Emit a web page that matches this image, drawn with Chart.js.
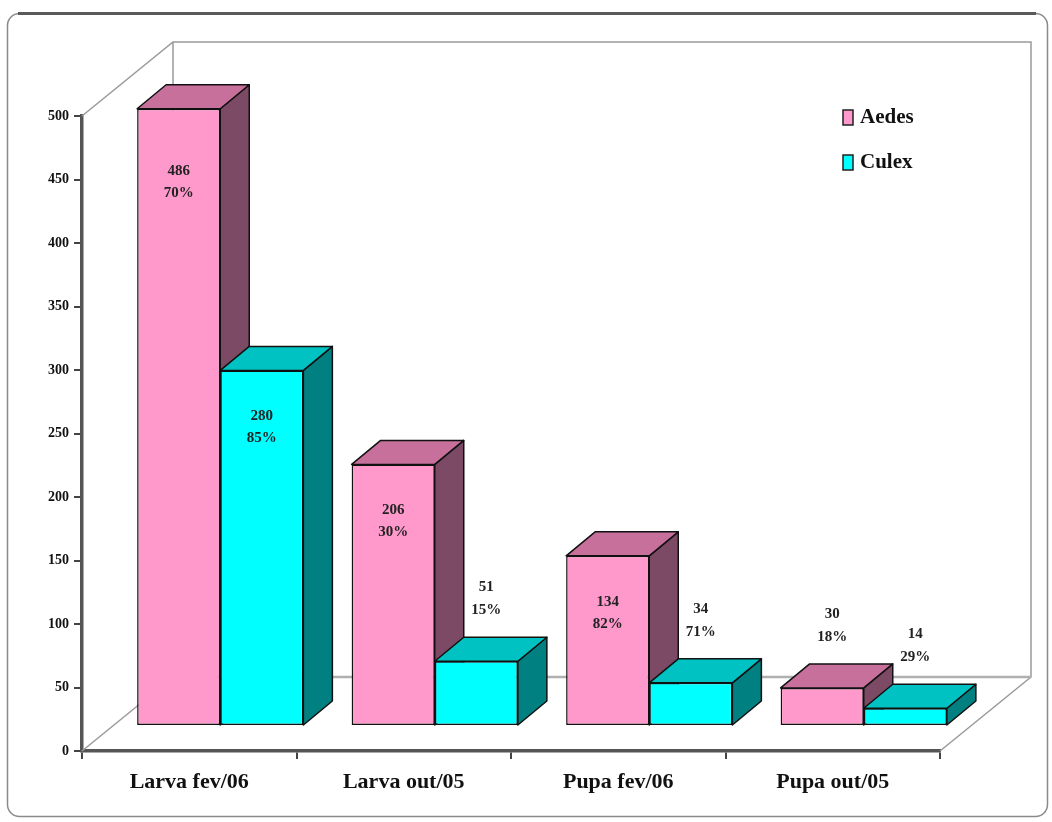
<!DOCTYPE html>
<html lang="pt">
<head>
<meta charset="utf-8">
<script src="https://cdn.jsdelivr.net/npm/chart.js@4.4.1/dist/chart.umd.min.js"></script>
<style>
  html, body { margin: 0; padding: 0; background: #fff; }
  canvas { display: block; }
</style>
</head>
<body>
<canvas id="grafico" width="1052" height="822"></canvas>
<script>
// --- DADOS ---
const categorias = ['Larva fev/06', 'Larva out/05', 'Pupa fev/06', 'Pupa out/05'];
const aedes = [486, 206, 134, 30];
const culex = [280, 51, 34, 14];
const pctAedes = ['70%', '30%', '82%', '18%'];
const pctCulex = ['85%', '15%', '71%', '29%'];
const eixoY = { min: 0, max: 500, passo: 50 };

// --- ESTILO 3D ---
const PISO = { dx: 91, dy: -74 };                     // profundidade da parede do fundo
const BARRA = { ox: 31, oy: -25, dx: 29, dy: -24 };   // posição e espessura das barras
const cores = [
    { frente: '#ff99cc', topo: '#c8709c', lado: '#7c4a64' },
    { frente: '#00ffff', topo: '#00c2c2', lado: '#008080' }
];
const serif = '"Liberation Serif", "Times New Roman", serif';

function poligono(ctx, pts, fill) {
    ctx.beginPath();
    ctx.moveTo(pts[0][0], pts[0][1]);
    for (let i = 1; i < pts.length; i++) ctx.lineTo(pts[i][0], pts[i][1]);
    ctx.closePath();
    ctx.fillStyle = fill;
    ctx.fill();
    ctx.stroke();
}

const grafico3d = {
    id: 'grafico3d',
    beforeDraw(chart) {
        const ctx = chart.ctx;
        ctx.save();
        ctx.fillStyle = '#fff';
        ctx.fillRect(0, 0, chart.width, chart.height);
        // moldura arredondada
        ctx.strokeStyle = '#8a8a8a';
        ctx.lineWidth = 1.5;
        ctx.beginPath();
        ctx.roundRect(7.5, 13.5, 1040, 803, 12);
        ctx.stroke();
        ctx.strokeStyle = '#5a5a5a';
        ctx.lineWidth = 3;
        ctx.beginPath();
        ctx.moveTo(18, 13.5);
        ctx.lineTo(1036, 13.5);
        ctx.stroke();
        ctx.restore();
    },
    beforeDatasetsDraw(chart) {
        const ctx = chart.ctx;
        const a = chart.chartArea;
        const bx = PISO.dx, by = PISO.dy;
        ctx.save();
        // parede do fundo e piso
        ctx.strokeStyle = '#9a9a9a';
        ctx.lineWidth = 1.5;
        ctx.beginPath();
        ctx.moveTo(a.left, a.top); ctx.lineTo(a.left + bx, a.top + by);
        ctx.lineTo(a.right + bx, a.top + by);
        ctx.lineTo(a.right + bx, a.bottom + by);
        ctx.lineTo(a.left + bx, a.bottom + by);
        ctx.lineTo(a.left + bx, a.top + by);
        ctx.moveTo(a.left, a.bottom); ctx.lineTo(a.left + bx, a.bottom + by);
        ctx.moveTo(a.right, a.bottom); ctx.lineTo(a.right + bx, a.bottom + by);
        ctx.stroke();
        ctx.beginPath();
        ctx.strokeStyle = '#b0b0b0';
        ctx.lineWidth = 2.5;
        ctx.moveTo(a.left + bx, a.bottom + by); ctx.lineTo(a.right + bx, a.bottom + by);
        ctx.stroke();

        // lados e topos das barras (as frentes são desenhadas pelo Chart.js)
        ctx.strokeStyle = '#111';
        ctx.lineWidth = 1.5;
        ctx.lineJoin = 'round';
        chart.data.datasets.forEach((ds, i) => {
            const meta = chart.getDatasetMeta(i);
            meta.data.forEach(bar => {
                const p = bar.getProps(['x', 'y', 'base', 'width'], true);
                const l = p.x - p.width / 2 + BARRA.ox;
                const r = p.x + p.width / 2 + BARRA.ox;
                const t = p.y + BARRA.oy;
                const b = p.base + BARRA.oy;
                poligono(ctx, [[r, t], [r + BARRA.dx, t + BARRA.dy], [r + BARRA.dx, b + BARRA.dy], [r, b]], cores[i].lado);
                poligono(ctx, [[l, t], [r, t], [r + BARRA.dx, t + BARRA.dy], [l + BARRA.dx, t + BARRA.dy]], cores[i].topo);
            });
        });
        ctx.restore();
    },
    beforeDatasetDraw(chart) {
        chart.ctx.save();
        chart.ctx.translate(BARRA.ox, BARRA.oy);
    },
    afterDatasetDraw(chart) {
        chart.ctx.restore();
    },
    afterDatasetsDraw(chart) {
        const ctx = chart.ctx;
        const pcts = [pctAedes, pctCulex];
        ctx.save();
        ctx.font = 'bold 15px ' + serif;
        ctx.fillStyle = '#222';
        ctx.textAlign = 'center';
        ctx.textBaseline = 'middle';
        chart.data.datasets.forEach((ds, i) => {
            chart.getDatasetMeta(i).data.forEach((bar, j) => {
                const p = bar.getProps(['x', 'y'], true);
                const cx = p.x + BARRA.ox;
                const topo = p.y + BARRA.oy;
                let y1, y2, x = cx;
                if (ds.data[j] > 100) {
                    // barras altas: rótulo dentro, mais abaixo quanto mais alta
                    const desce = 40 + (ds.data[j] > 400 ? 22 : 6);
                    y1 = topo + desce; y2 = topo + desce + 22;
                } else {
                    y1 = topo - 74; y2 = topo - 51; x = cx + 10;
                }
                ctx.fillText(String(ds.data[j]), x, y1);
                ctx.fillText(pcts[i][j], x, y2);
            });
        });
        ctx.restore();
    },
    afterDraw(chart) {
        // legenda dentro da área do gráfico
        const ctx = chart.ctx;
        ctx.save();
        ctx.font = 'bold 21px ' + serif;
        ctx.textBaseline = 'middle';
        chart.data.datasets.forEach((ds, i) => {
            const y = 117 + i * 45;
            ctx.fillStyle = cores[i].frente;
            ctx.strokeStyle = '#222';
            ctx.lineWidth = 1.5;
            ctx.fillRect(843, y - 7, 10, 15);
            ctx.strokeRect(843, y - 7, 10, 15);
            ctx.fillStyle = '#111';
            ctx.fillText(ds.label, 860, y + 1);
        });
        ctx.restore();
    }
};

new Chart(document.getElementById('grafico'), {
    type: 'bar',
    data: {
        labels: categorias,
        datasets: [
            { label: 'Aedes', data: aedes, backgroundColor: cores[0].frente, borderColor: '#111', borderWidth: 1.5, borderSkipped: false, clip: false },
            { label: 'Culex', data: culex, backgroundColor: cores[1].frente, borderColor: '#111', borderWidth: 1.5, borderSkipped: false, clip: false }
        ]
    },
    options: {
        responsive: false,
        devicePixelRatio: 1,
        animation: false,
        categoryPercentage: 0.775,
        barPercentage: 1,
        layout: { padding: { top: 116, right: 112, left: 0, bottom: 0 } },
        plugins: { legend: { display: false }, tooltip: { enabled: false } },
        scales: {
            x: {
                grid: { drawOnChartArea: false, tickLength: 8, color: '#444', lineWidth: 2 },
                border: { color: '#555', width: 3.5 },
                ticks: { color: '#111', font: { family: serif, size: 22, weight: 'bold' }, padding: 10, maxRotation: 0 },
                afterFit(scale) { scale.height = 71; }
            },
            y: {
                min: eixoY.min,
                max: eixoY.max,
                grid: { drawOnChartArea: false, tickLength: 8, color: '#444', lineWidth: 2 },
                border: { color: '#555', width: 3.5 },
                ticks: { stepSize: eixoY.passo, color: '#111', font: { family: serif, size: 14, weight: 'bold' }, padding: 5 },
                afterFit(scale) { scale.width = 82; }
            }
        }
    },
    plugins: [grafico3d]
});
</script>
</body>
</html>
